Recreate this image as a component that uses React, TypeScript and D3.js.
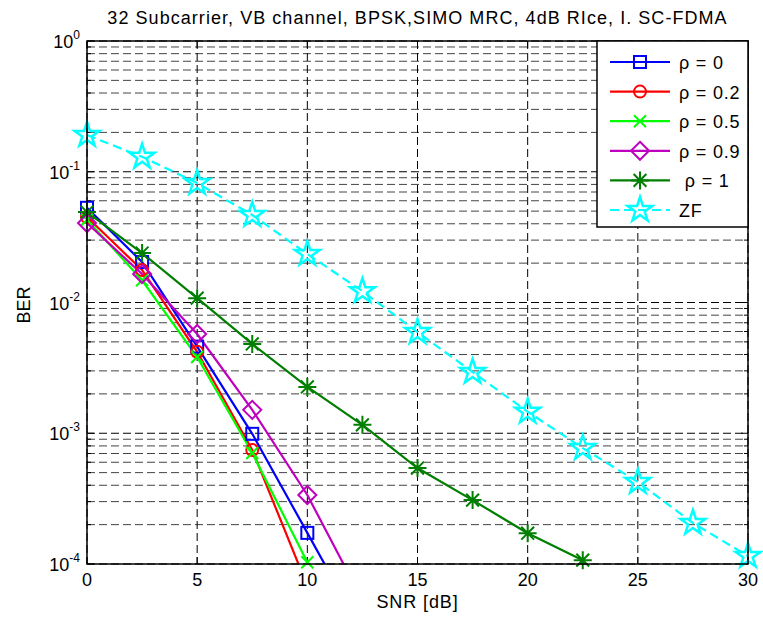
import React, { useEffect, useRef } from 'react';
import * as d3 from 'd3';

// SNR points (dB)
const snr = [0, 2.5, 5, 7.5, 10, 12.5];
const snrZF = [0, 2.5, 5, 7.5, 10, 12.5, 15, 17.5, 20, 22.5, 25, 27.5, 30];
const snrRho1 = [0, 2.5, 5, 7.5, 10, 12.5, 15, 17.5, 20, 22.5];

// BER (last points fall below the axis and get clipped)
const berRho0 = [0.053, 0.0204, 0.0046, 0.00099, 0.000173, 0.00003];
const berRho02 = [0.045, 0.0177, 0.0042, 0.000744, 0.000068, 0.000006];
const berRho05 = [0.043, 0.0148, 0.00383, 0.000706, 0.000103, 0.000015];
const berRho09 = [0.0405, 0.0165, 0.00574, 0.00151, 0.000337, 0.000053];
const berRho1 = [0.0492, 0.0239, 0.0108, 0.00482, 0.00226, 0.00116, 0.000542, 0.000308, 0.000172, 0.000107];
const berZF = [0.191, 0.13, 0.082, 0.0467, 0.0235, 0.0122, 0.00594, 0.00294, 0.00146, 0.00077, 0.000424, 0.000206, 0.000115];

const legendLabels = ['ρ = 0', 'ρ = 0.2', 'ρ = 0.5', 'ρ = 0.9', ' ρ = 1', 'ZF'];
const xTicks = [0, 5, 10, 15, 20, 25, 30];
const yExps = [0, -1, -2, -3, -4];

const series = [
  { x: snr, y: berRho0, color: '#0000ff', marker: 'square', dash: null },
  { x: snr, y: berRho02, color: '#ff0000', marker: 'circle', dash: null },
  { x: snr, y: berRho05, color: '#00ff00', marker: 'x', dash: null },
  { x: snr, y: berRho09, color: '#bf00bf', marker: 'diamond', dash: null },
  { x: snrRho1, y: berRho1, color: '#007f00', marker: 'asterisk', dash: null },
  { x: snrZF, y: berZF, color: '#00ffff', marker: 'star', dash: '9,5' },
];

function drawMarker(g, kind, cx, cy, color) {
  const m = g.append('g').attr('transform', `translate(${cx},${cy})`);
  if (kind === 'square') {
    m.append('rect').attr('x', -6).attr('y', -6).attr('width', 12).attr('height', 12)
      .attr('fill', 'none').attr('stroke', color).attr('stroke-width', 2);
  } else if (kind === 'circle') {
    m.append('circle').attr('r', 6).attr('fill', 'none').attr('stroke', color).attr('stroke-width', 2);
  } else if (kind === 'x') {
    m.append('path').attr('d', 'M-6,-6L6,6M-6,6L6,-6').attr('stroke', color).attr('stroke-width', 2);
  } else if (kind === 'diamond') {
    m.append('path').attr('d', 'M0,-9L9,0L0,9L-9,0Z').attr('fill', 'none').attr('stroke', color).attr('stroke-width', 2);
  } else if (kind === 'asterisk') {
    m.append('path').attr('d', 'M0,-9L0,9M-9,0L9,0M-6.4,-6.4L6.4,6.4M-6.4,6.4L6.4,-6.4')
      .attr('stroke', color).attr('stroke-width', 2);
  } else if (kind === 'star') {
    m.append('path').attr('d', d3.symbol(d3.symbolStar, 190)())
      .attr('fill', 'none').attr('stroke', color).attr('stroke-width', 2.5).attr('stroke-linejoin', 'miter');
  }
}

const App = () => {
  const svgRef = useRef(null);

  useEffect(() => {
    const W = 763, H = 619;
    const left = 87, right = 748, top = 41, bottom = 564;
    const font = "'Liberation Sans', Arial, Helvetica, sans-serif";

    const svg = d3.select(svgRef.current);
    svg.selectAll('*').remove();
    svg.attr('width', W).attr('height', H);
    svg.append('rect').attr('width', W).attr('height', H).attr('fill', '#fff');

    const x = d3.scaleLinear().domain([0, 30]).range([left, right]);
    const y = d3.scaleLog().domain([1e-4, 1]).range([bottom, top]);

    svg.append('defs').append('clipPath').attr('id', 'plotclip')
      .append('rect').attr('x', left).attr('y', top).attr('width', right - left).attr('height', bottom - top);

    // grid
    const grid = svg.append('g');
    const minor = [];
    for (let e = -4; e < 0; e++) {
      for (let k = 2; k <= 9; k++) minor.push(k * Math.pow(10, e));
    }
    minor.forEach(v => {
      grid.append('line').attr('x1', left).attr('x2', right).attr('y1', y(v)).attr('y2', y(v))
        .attr('stroke', '#444').attr('stroke-width', 1).attr('stroke-dasharray', '8,4');
    });
    yExps.forEach(e => {
      grid.append('line').attr('x1', left).attr('x2', right).attr('y1', y(Math.pow(10, e))).attr('y2', y(Math.pow(10, e)))
        .attr('stroke', '#000').attr('stroke-width', 1).attr('stroke-dasharray', '8,4');
    });
    xTicks.forEach(t => {
      grid.append('line').attr('x1', x(t)).attr('x2', x(t)).attr('y1', top).attr('y2', bottom)
        .attr('stroke', '#000').attr('stroke-width', 1).attr('stroke-dasharray', '8,4');
    });

    // ticks (inward, on all sides)
    const ticks = svg.append('g').attr('stroke', '#000').attr('stroke-width', 1);
    xTicks.forEach(t => {
      ticks.append('line').attr('x1', x(t)).attr('x2', x(t)).attr('y1', bottom).attr('y2', bottom - 7);
      ticks.append('line').attr('x1', x(t)).attr('x2', x(t)).attr('y1', top).attr('y2', top + 7);
    });
    yExps.forEach(e => {
      const yy = y(Math.pow(10, e));
      ticks.append('line').attr('x1', left).attr('x2', left + 7).attr('y1', yy).attr('y2', yy);
      ticks.append('line').attr('x1', right).attr('x2', right - 7).attr('y1', yy).attr('y2', yy);
    });
    minor.forEach(v => {
      ticks.append('line').attr('x1', left).attr('x2', left + 4).attr('y1', y(v)).attr('y2', y(v));
      ticks.append('line').attr('x1', right).attr('x2', right - 4).attr('y1', y(v)).attr('y2', y(v));
    });

    // series
    const plot = svg.append('g').attr('clip-path', 'url(#plotclip)');
    const line = d3.line().x(d => x(d[0])).y(d => y(d[1]));
    series.forEach(s => {
      const pts = s.x.map((v, i) => [v, s.y[i]]);
      plot.append('path').attr('d', line(pts)).attr('fill', 'none').attr('stroke', s.color)
        .attr('stroke-width', 2.2).attr('stroke-dasharray', s.dash);
    });
    series.forEach(s => {
      s.x.forEach((v, i) => {
        if (s.y[i] >= 1e-4 * 0.98) drawMarker(svg, s.marker, x(v), y(s.y[i]), s.color);
      });
    });

    // axes box
    svg.append('rect').attr('x', left).attr('y', top).attr('width', right - left).attr('height', bottom - top)
      .attr('fill', 'none').attr('stroke', '#000').attr('stroke-width', 1.5);

    // tick labels
    xTicks.forEach(t => {
      svg.append('text').attr('x', x(t)).attr('y', 586).attr('text-anchor', 'middle')
        .attr('font-family', font).attr('font-size', 18).text(t);
    });
    yExps.forEach(e => {
      const t = svg.append('text').attr('x', 80).attr('y', y(Math.pow(10, e)) + 7).attr('text-anchor', 'end')
        .attr('font-family', font).attr('font-size', 18);
      t.append('tspan').text('10');
      t.append('tspan').attr('dy', -9).attr('font-size', 12).text(e);
    });

    // labels
    svg.append('text').attr('x', (left + right) / 2).attr('y', 608).attr('text-anchor', 'middle')
      .attr('font-family', font).attr('font-size', 18).attr('letter-spacing', 0.9).text('SNR [dB]');
    svg.append('text').attr('transform', `translate(30,305) rotate(-90)`).attr('text-anchor', 'middle')
      .attr('font-family', font).attr('font-size', 18).text('BER');
    svg.append('text').attr('x', (left + right) / 2 + 0).attr('y', 24).attr('text-anchor', 'middle')
      .attr('font-family', font).attr('font-size', 18).attr('letter-spacing', 1.05)
      .text('32 Subcarrier, VB channel, BPSK,SIMO MRC, 4dB RIce, I. SC-FDMA');

    // legend
    const lg = svg.append('g');
    lg.append('rect').attr('x', 597).attr('y', top).attr('width', right - 597).attr('height', 186)
      .attr('fill', '#fff').attr('stroke', '#000').attr('stroke-width', 1.5);
    series.forEach((s, i) => {
      const ly = 62 + i * 29.6;
      lg.append('line').attr('x1', 610).attr('x2', 670).attr('y1', ly).attr('y2', ly)
        .attr('stroke', s.color).attr('stroke-width', 2.2).attr('stroke-dasharray', s.dash);
      drawMarker(lg, s.marker, 640, ly, s.color);
      lg.append('text').attr('x', 679).attr('y', ly + 7).attr('font-family', font).attr('font-size', 18)
        .attr('letter-spacing', 0.8).style('white-space', 'pre').text(legendLabels[i]);
    });
  }, []);

  return <svg ref={svgRef} style={{ position: 'absolute', left: 0, top: 0 }}></svg>;
};

export default App;
